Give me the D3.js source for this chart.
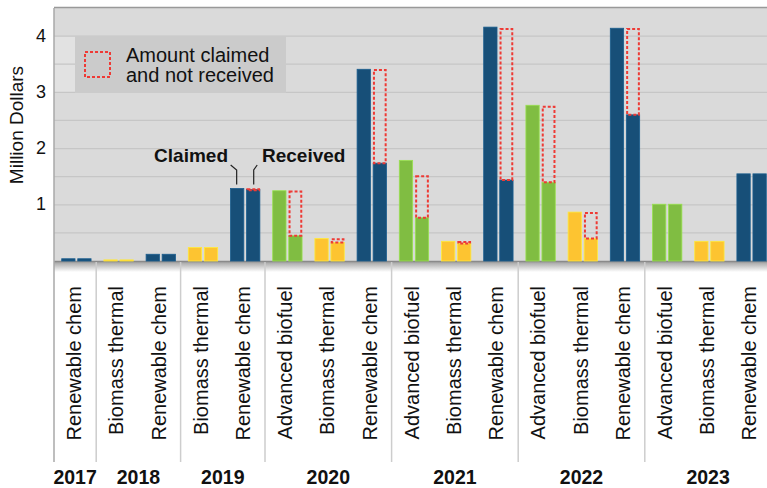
<!DOCTYPE html>
<html lang='en'>
<head>
  <title>Claimed vs received</title>
  <script src='https://cdn.jsdelivr.net/npm/d3@7/dist/d3.min.js'></script>
  <style>
    body { margin: 0; background: #fff; }
    text { font-family: "Liberation Sans", Arial, sans-serif; fill: #111; }
  </style>
</head>
<body>
  <script>
    // data (million dollars)
    const categories = ["Renewable chem", "Biomass thermal", "Renewable chem", "Biomass thermal", "Renewable chem",
      "Advanced biofuel", "Biomass thermal", "Renewable chem", "Advanced biofuel", "Biomass thermal", "Renewable chem",
      "Advanced biofuel", "Biomass thermal", "Renewable chem", "Advanced biofuel", "Biomass thermal", "Renewable chem"];
    const years = ["2017", "2018", "2018", "2019", "2019", "2020", "2020", "2020", "2021", "2021", "2021",
      "2022", "2022", "2022", "2023", "2023", "2023"];
    const claimed = [0.04, 0.02, 0.12, 0.24, 1.29, 1.25, 0.40, 3.41, 1.79, 0.35, 4.16, 2.77, 0.87, 4.14, 1.01, 0.35, 1.55];
    const received = [0.04, 0.02, 0.12, 0.24, 1.27, 0.45, 0.33, 1.74, 0.77, 0.31, 1.44, 1.40, 0.40, 2.60, 1.01, 0.35, 1.55];
    const notReceived = [0, 0, 0, 0, 0.02, 0.80, 0.07, 1.67, 0.75, 0.04, 2.70, 1.36, 0.47, 1.54, 0, 0, 0];
    const yTicks = [1, 2, 3, 4];

    const typeColor = { "Renewable chem": "#174f78", "Biomass thermal": "#fdc431", "Advanced biofuel": "#80bd42" };

    let width = 767, height = 488;
    let left = 54, plotTop = 8, bottom = 261, step = 42.2;

    let svg = d3.select("body").append("svg")
      .attr("width", width).attr("height", height);

    let defs = svg.append("defs");
    let grad = defs.append("linearGradient").attr("id", "shadow")
      .attr("x1", 0).attr("y1", 0).attr("x2", 0).attr("y2", 1);
    grad.append("stop").attr("offset", "0%").attr("stop-color", "#9a9a9a");
    grad.append("stop").attr("offset", "100%").attr("stop-color", "#ffffff");

    let x = d3.scaleBand().domain(d3.range(categories.length))
      .range([left, left + categories.length * step]);
    let xi = d3.scaleBand().domain(["claimed", "received"])
      .range([0, x.bandwidth()]).paddingInner(0.17).paddingOuter(0.4).align(0.6);
    let y = d3.scaleLinear().domain([0, 4.5]).range([bottom, plotTop]);

    // plot background
    svg.append("rect").attr("x", left).attr("y", plotTop)
      .attr("width", width - left).attr("height", bottom - plotTop)
      .attr("fill", "#dadada");

    // shadow under the plot
    svg.append("rect").attr("x", left).attr("y", bottom)
      .attr("width", width - left).attr("height", 11)
      .attr("fill", "url(#shadow)");

    // light strip left of legend
    svg.append("rect").attr("x", left).attr("y", 36)
      .attr("width", 21).attr("height", 57).attr("fill", "#e2e2e2");

    // gridlines every half million
    svg.append("g").selectAll("line").data(d3.range(0.5, 4.5, 0.5)).join("line")
      .attr("x1", left).attr("x2", width)
      .attr("y1", d => y(d)).attr("y2", d => y(d))
      .attr("stroke", "#c6c6c6").attr("stroke-width", 1.2);

    // legend box
    svg.append("rect").attr("x", 75).attr("y", 36)
      .attr("width", 211).attr("height", 57).attr("fill", "#cbcbcb");
    svg.append("rect").attr("x", 85).attr("y", 52)
      .attr("width", 25).attr("height", 25).attr("fill", "none")
      .attr("stroke", "#ee3a35").attr("stroke-width", 2).attr("stroke-dasharray", "3,2");
    svg.append("text").attr("x", 126).attr("y", 61.5).attr("font-size", 20).text("Amount claimed");
    svg.append("text").attr("x", 126).attr("y", 81.5).attr("font-size", 20).text("and not received");

    // frame lines
    svg.append("line").attr("x1", left).attr("x2", width).attr("y1", plotTop - 0.5).attr("y2", plotTop - 0.5)
      .attr("stroke", "#999").attr("stroke-width", 1.5);
    svg.append("line").attr("x1", left).attr("x2", width).attr("y1", bottom + 0.5).attr("y2", bottom + 0.5)
      .attr("stroke", "#8a8a8a").attr("stroke-width", 1.5);

    // bars
    let parts = svg.append("g").selectAll("g").data(categories).join("g")
      .attr("transform", (d, i) => `translate(${x(i)},0)`);
    parts.append("rect")
      .attr("x", xi("claimed")).attr("width", xi.bandwidth())
      .attr("y", (d, i) => y(claimed[i])).attr("height", (d, i) => bottom - y(claimed[i]))
      .attr("fill", d => typeColor[d])
      .attr("stroke", d => d3.color(typeColor[d]).brighter(0.5)).attr("stroke-width", 0.8);
    parts.append("rect")
      .attr("x", xi("received")).attr("width", xi.bandwidth())
      .attr("y", (d, i) => y(received[i])).attr("height", (d, i) => bottom - y(received[i]))
      .attr("fill", d => typeColor[d])
      .attr("stroke", d => d3.color(typeColor[d]).brighter(0.5)).attr("stroke-width", 0.8);
    // dashed boxes for claimed but not received
    parts.each(function (d, i) {
      if (notReceived[i] <= 0) return;
      let top0 = y(received[i] + notReceived[i]);
      d3.select(this).append("rect")
        .attr("x", xi("received") + 0.8).attr("width", xi.bandwidth() - 1.6)
        .attr("y", top0 + 0.8).attr("height", Math.max(y(received[i]) - top0 - 0.8, 1))
        .attr("fill", "none").attr("stroke", "#ee3a35")
        .attr("stroke-width", 2).attr("stroke-dasharray", "3,2");
    });

    // y ticks
    svg.append("g").selectAll("text").data(yTicks).join("text")
      .attr("x", 46).attr("y", d => y(d)).attr("dy", "0.3em")
      .attr("text-anchor", "end").attr("font-size", 18).text(d => d);
    svg.append("text").attr("transform", `translate(23,125) rotate(-90)`)
      .attr("text-anchor", "middle").attr("font-size", 19).text("Million Dollars");

    // callouts
    let cx = x(4);
    svg.append("text").attr("x", 228).attr("y", 162).attr("text-anchor", "end")
      .attr("font-size", 19).attr("font-weight", "bold").text("Claimed");
    svg.append("text").attr("x", 262).attr("y", 162)
      .attr("font-size", 19).attr("font-weight", "bold").text("Received");
    let lead = d3.line();
    let cTop = y(claimed[4]), rTop = y(received[4] + notReceived[4]);
    let cMid = cx + xi("claimed") + xi.bandwidth() / 2, rMid = cx + xi("received") + xi.bandwidth() / 2;
    svg.append("path").attr("d", lead([[cMid - 6.5, 165], [cMid - 0.5, 170], [cMid - 0.5, cTop - 4]]))
      .attr("fill", "none").attr("stroke", "#222").attr("stroke-width", 1.2);
    svg.append("path").attr("d", lead([[rMid + 4, 165], [rMid + 0.5, 170], [rMid + 0.5, rTop - 4]]))
      .attr("fill", "none").attr("stroke", "#222").attr("stroke-width", 1.2);

    // category labels
    svg.append("g").selectAll("text").data(categories).join("text")
      .attr("transform", (d, i) => `translate(${x(i) + step / 2},286) rotate(-90)`)
      .attr("dy", "0.3em").attr("text-anchor", "end").attr("font-size", 20).text(d => d);

    // year separators and labels
    let groups = Array.from(d3.group(d3.range(years.length), i => years[i]));
    let seps = [left].concat(groups.map(g => x(g[1][g[1].length - 1]) + step));
    svg.append("g").selectAll("line").data(seps.filter(s => s < width)).join("line")
      .attr("x1", d => d).attr("x2", d => d)
      .attr("y1", (d, i) => i === 0 ? plotTop : bottom + 1).attr("y2", 462)
      .attr("stroke", (d, i) => i === 0 ? "#a8a8a8" : "#cdcdcd").attr("stroke-width", 1.5);
    svg.append("g").selectAll("text").data(groups).join("text")
      .attr("x", g => (x(g[1][0]) + x(g[1][g[1].length - 1]) + step) / 2)
      .attr("y", 484).attr("text-anchor", "middle")
      .attr("font-size", 19.5).attr("font-weight", "bold").text(g => g[0]);
  </script>
</body>
</html>
